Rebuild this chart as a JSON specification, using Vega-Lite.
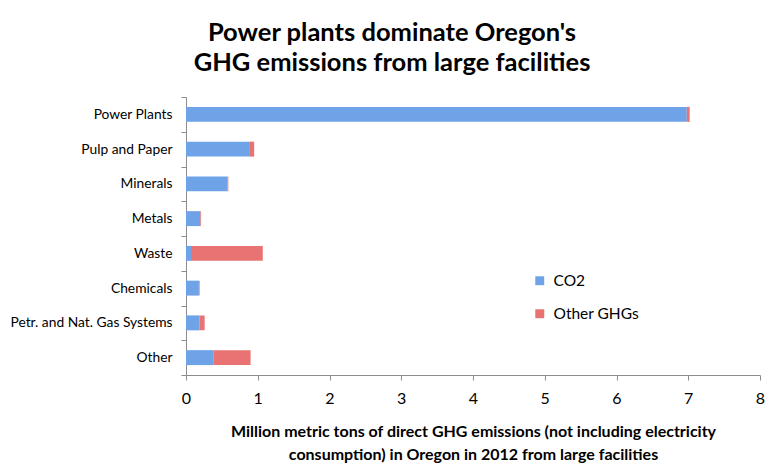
{
  "$schema": "https://vega.github.io/schema/vega-lite/v6.json",
  "autosize": {"type": "none"},
  "padding": {"left": 186, "top": 97, "right": 23, "bottom": 101},
  "width": 574,
  "height": 278,
  "background": "white",
  "view": {"stroke": null},
  "title": {
    "text": ["Power plants dominate Oregon's", "GHG emissions from large facilities"],
    "font": "Lato",
    "fontSize": 25.5,
    "fontWeight": "bold",
    "color": "black",
    "anchor": "middle",
    "frame": "group",
    "dx": -81,
    "offset": 14,
    "lineHeight": 30
  },
  "data": {
    "values": [
      {"category": "Power Plants", "gas": "CO2", "value": 6.98},
      {"category": "Power Plants", "gas": "Other GHGs", "value": 0.04},
      {"category": "Pulp and Paper", "gas": "CO2", "value": 0.88},
      {"category": "Pulp and Paper", "gas": "Other GHGs", "value": 0.07},
      {"category": "Minerals", "gas": "CO2", "value": 0.58},
      {"category": "Minerals", "gas": "Other GHGs", "value": 0.01},
      {"category": "Metals", "gas": "CO2", "value": 0.2},
      {"category": "Metals", "gas": "Other GHGs", "value": 0.01},
      {"category": "Waste", "gas": "CO2", "value": 0.07},
      {"category": "Waste", "gas": "Other GHGs", "value": 1.0},
      {"category": "Chemicals", "gas": "CO2", "value": 0.18},
      {"category": "Chemicals", "gas": "Other GHGs", "value": 0.01},
      {"category": "Petr. and Nat. Gas Systems", "gas": "CO2", "value": 0.19},
      {"category": "Petr. and Nat. Gas Systems", "gas": "Other GHGs", "value": 0.07},
      {"category": "Other", "gas": "CO2", "value": 0.38},
      {"category": "Other", "gas": "Other GHGs", "value": 0.52}
    ]
  },
  "mark": {"type": "bar", "height": {"band": 0.43}},
  "encoding": {
    "y": {
      "field": "category",
      "type": "nominal",
      "sort": ["Power Plants", "Pulp and Paper", "Minerals", "Metals", "Waste", "Chemicals", "Petr. and Nat. Gas Systems", "Other"],
      "scale": {"paddingInner": 0, "paddingOuter": 0},
      "axis": {
        "title": null,
        "tickBand": "extent",
        "domainColor": "#8c8c8c",
        "tickColor": "#8c8c8c",
        "tickSize": 5,
        "labelPadding": 9,
        "labelFont": "Lato",
        "labelFontSize": 13.8,
        "labelColor": "black",
        "grid": false
      }
    },
    "x": {
      "field": "value",
      "type": "quantitative",
      "stack": "zero",
      "scale": {"domain": [0, 8], "nice": false},
      "axis": {
        "values": [0, 1, 2, 3, 4, 5, 6, 7, 8],
        "grid": false,
        "labelFlush": false,
        "domainColor": "#8c8c8c",
        "tickColor": "#8c8c8c",
        "tickSize": 5,
        "labelPadding": 10,
        "labelFont": "Lato",
        "labelFontSize": 16,
        "labelColor": "black",
        "title": ["Million metric tons of direct GHG emissions (not including electricity", "consumption) in Oregon in 2012 from large facilities"],
        "titleFont": "Lato",
        "titleFontSize": 16,
        "titleFontWeight": "bold",
        "titleColor": "black",
        "titlePadding": 17,
        "titleLineHeight": 23
      }
    },
    "color": {
      "field": "gas",
      "type": "nominal",
      "scale": {"domain": ["CO2", "Other GHGs"], "range": ["#6ea3e8", "#e97272"]},
      "legend": {
        "title": null,
        "orient": "none",
        "legendX": 346,
        "legendY": 176,
        "symbolType": "square",
        "symbolSize": 80,
        "symbolStrokeWidth": 0,
        "labelFont": "Lato",
        "labelFontSize": 15.5,
        "labelColor": "black",
        "rowPadding": 16,
        "labelOffset": 6
      }
    },
    "order": {"field": "gas", "sort": "ascending"}
  }
}
